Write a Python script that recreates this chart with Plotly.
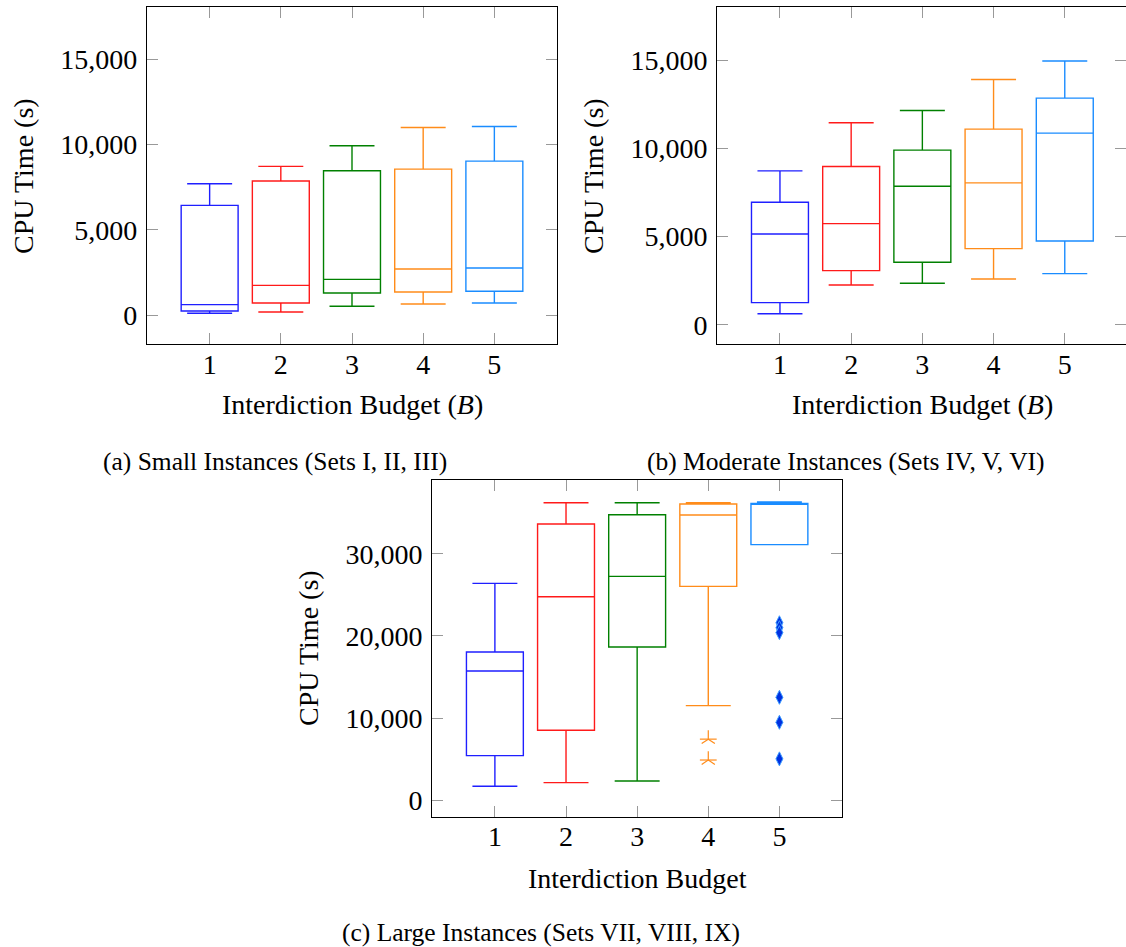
import plotly.graph_objects as go

# ---------------- data ----------------
budgets = [1, 2, 3, 4, 5]
box_colors = ["#1f1fff", "#ff1a1a", "#008000", "#ff8c1a", "#1a8cff"]

# (a) Small instances
a_lower = [117, 195, 527, 663, 722]
a_q1 = [254, 722, 1307, 1365, 1404]
a_med = [624, 1755, 2106, 2711, 2769]
a_q3 = [6435, 7859, 8463, 8561, 9029]
a_upper = [7703, 8717, 9926, 10998, 11057]

# (b) Moderate instances
b_lower = [624, 2251, 2346, 2592, 2895]
b_q1 = [1249, 3065, 3538, 4314, 4749]
b_med = [5146, 5733, 7852, 8041, 10860]
b_q3 = [6944, 8968, 9895, 11087, 12847]
b_upper = [8722, 11447, 12147, 13906, 14947]

# (c) Large instances
c_lower = [1703, 2149, 2351, 11513, 31100]
c_q1 = [5432, 8513, 18648, 26027, 31100]
c_med = [15730, 24770, 27243, 34702, 36100]
c_q3 = [18040, 33608, 34743, 36040, 36121]
c_upper = [26391, 36202, 36202, 36202, 36283]
c4_outliers = [7440, 4900]
c5_outliers = [21600, 21000, 20400, 12530, 9490, 5040]

y_ticks_ab = [0, 5000, 10000, 15000]
y_ticks_c = [0, 10000, 20000, 30000]

captions = ["(a) Small Instances (Sets I, II, III)",
            "(b) Moderate Instances (Sets IV, V, VI)",
            "(c) Large Instances (Sets VII, VIII, IX)"]

# ---------------- figure ----------------
W, H = 1126, 947
FONT = "Liberation Serif"
fig = go.Figure()

panels = [
    ("x", "y", a_lower, a_q1, a_med, a_q3, a_upper),
    ("x2", "y2", b_lower, b_q1, b_med, b_q3, b_upper),
    ("x3", "y3", c_lower, c_q1, c_med, c_q3, c_upper),
]
for xa, ya, lo, q1, md, q3, up in panels:
    for i, b in enumerate(budgets):
        fig.add_trace(go.Box(
            x=[b], lowerfence=[lo[i]], q1=[q1[i]], median=[md[i]],
            q3=[q3[i]], upperfence=[up[i]],
            width=0.8, whiskerwidth=0.79,
            line=dict(color=box_colors[i], width=1.4),
            fillcolor="rgba(0,0,0,0)", boxpoints=False,
            xaxis=xa, yaxis=ya, showlegend=False))

# star-shaped outliers (5 arms): Y-shape plus a horizontal bar
for sym, sz in (("y-up-open", 11), ("line-ew-open", 12)):
    fig.add_trace(go.Scatter(
        x=[budgets[3]] * len(c4_outliers), y=c4_outliers, mode="markers",
        marker=dict(symbol=sym, size=sz, color=box_colors[3],
                    line=dict(color=box_colors[3], width=1.2)),
        xaxis="x3", yaxis="y3", showlegend=False))
fig.add_trace(go.Scatter(
    x=[budgets[4]] * len(c5_outliers), y=c5_outliers, mode="markers",
    marker=dict(symbol="diamond-tall", size=10, color="#0030e0",
                line=dict(color="#3d9bff", width=1)),
    xaxis="x3", yaxis="y3", showlegend=False))


def px_dom_x(a, b):
    return [a / W, min(b / W, 1.0)]


def px_dom_y(top, bottom):
    return [1 - bottom / H, 1 - top / H]


common = dict(showline=True, linecolor="black", linewidth=1.2, mirror="ticks",
              ticks="inside", ticklen=11, tickwidth=1.2, tickcolor="#999999",
              showgrid=False, zeroline=False,
              tickfont=dict(family=FONT, size=28, color="black"))
xcommon = dict(common, ticklabelstandoff=-5)
ycommon = dict(common, ticklabelstandoff=3)

fig.update_layout(
    width=W, height=H, margin=dict(l=0, r=0, t=0, b=0),
    paper_bgcolor="white", plot_bgcolor="white",
    xaxis=dict(domain=px_dom_x(147, 557), range=[0.12, 5.88],
               tickvals=budgets, anchor="y", **xcommon),
    yaxis=dict(domain=px_dom_y(7, 344), range=[-1680, 18050],
               tickvals=y_ticks_ab, tickformat=",", anchor="x", **ycommon),
    xaxis2=dict(domain=px_dom_x(717.3, 1127), range=[0.12, 5.86],
                tickvals=budgets, anchor="y2", **xcommon),
    yaxis2=dict(domain=px_dom_y(7, 344), range=[-1095, 18013],
                tickvals=y_ticks_ab, tickformat=",", anchor="x2", **ycommon),
    xaxis3=dict(domain=px_dom_x(432.3, 842), range=[0.12, 5.88],
                tickvals=budgets, anchor="y3", **xcommon),
    yaxis3=dict(domain=px_dom_y(480, 816.7), range=[-1995, 38966],
                tickvals=y_ticks_c, tickformat=",", anchor="x3", **ycommon),
)


def ann(text, xp, yp, size=28, angle=0):
    fig.add_annotation(text=text, x=xp / W, y=1 - yp / H, xref="paper",
                       yref="paper", showarrow=False, textangle=angle,
                       xanchor="center", yanchor="middle",
                       font=dict(family=FONT, size=size, color="black"))


ann("CPU Time (s)", 23, 176, angle=-90)
ann("CPU Time (s)", 593, 176, angle=-90)
ann("CPU Time (s)", 308, 648, angle=-90)
ann("Interdiction Budget (<i>B</i>)", 352, 405)
ann("Interdiction Budget (<i>B</i>)", 922, 405)
ann("Interdiction Budget", 637, 878)
ann(captions[0], 275, 461, size=25.5)
ann(captions[1], 846, 461, size=25.5)
ann(captions[2], 541, 932, size=25.5)

fig.write_html("out.html")
